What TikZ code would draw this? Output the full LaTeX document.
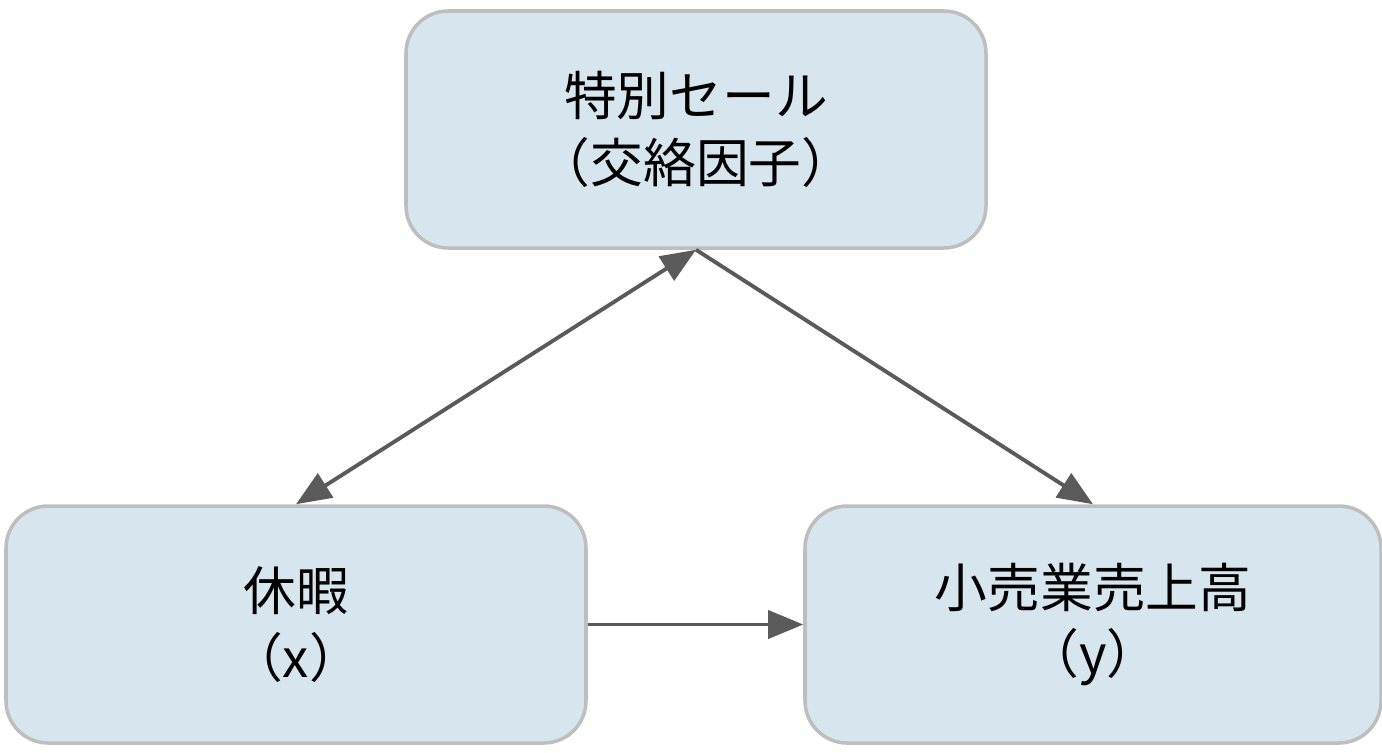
\documentclass[tikz,border=0pt]{standalone}
\usepackage{fontspec}
\setmainfont{Noto Sans CJK JP}
\usetikzlibrary{arrows.meta}
\definecolor{boxfill}{RGB}{215,230,238}
\definecolor{boxline}{RGB}{190,190,190}
\definecolor{arrowgray}{RGB}{90,90,90}

\begin{document}
\begin{tikzpicture}[
    box/.style={rectangle, draw=boxline, line width=1pt, fill=boxfill, rounded corners=12pt,
        minimum width=5.8cm, minimum height=2.37cm, align=center,
        font=\fontsize{15pt}{19pt}\selectfont},
    link/.style={draw=arrowgray, line width=1.1pt, -{Triangle[length=10pt,width=8pt]}}
]
\useasboundingbox (0,0) rectangle (13.82,7.52);

\node[box] (sale) at (6.96, 6.225) {特別セール\\（交絡因子）};
\node[box] (holiday) at (2.96, 1.275) {休暇\\（x）};
\node[box, minimum width=5.76cm] (sales) at (10.93, 1.275) {小売業売上高\\（y）};

% Connections
\path[link, {Triangle[length=10pt,width=8pt]}-{Triangle[length=10pt,width=8pt]}] (sale.south) -- (holiday.north);
\path[link] (sale.south) -- (sales.north);
\path[link] (holiday.east) -- (sales.west);

\end{tikzpicture}
\end{document}
